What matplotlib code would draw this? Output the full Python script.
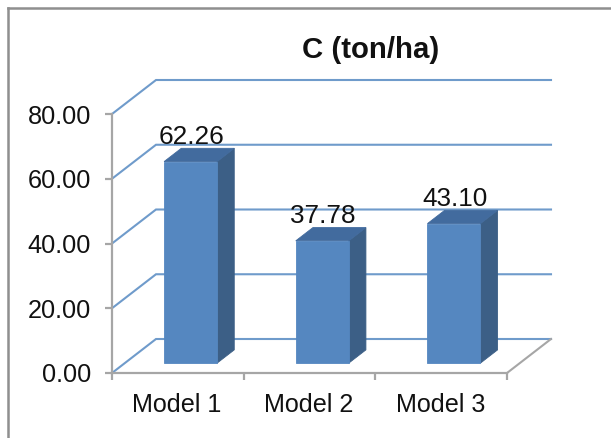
import matplotlib
matplotlib.use("Agg")
import matplotlib.pyplot as plt
from matplotlib.lines import Line2D

models = ["Model 1", "Model 2", "Model 3"]
carbon = [62.26, 37.78, 43.10]
y_ticks = [0, 20, 40, 60, 80]
title = "C (ton/ha)"

W, H = 611, 438
plt.rcParams["font.family"] = ["Liberation Sans", "DejaVu Sans"]
fig = plt.figure(figsize=(W / 100, H / 100), dpi=100, facecolor="white")
ax = fig.add_axes([112 / W, (H - 373) / H, 395 / W, 259 / H], facecolor="none")
ax.set_xlim(0, 3)
ax.set_ylim(0, 80)

# oblique depth of the 3-D box, in data units
DX = 44 / (395 / 3)
DY = 34 / (259 / 80)


def proj(x, y, d):
    return x + DX * d, y + DY * d


GRID = "#6f9bcb"
AXIS = "#a6a6a6"
FACE = "#5587c0"
SIDE = "#3c5f86"
TOP = "#426b9e"

# wall grid lines
for v in y_ticks:
    xs = [0, proj(0, v, 1)[0], proj(3, v, 1)[0]]
    ys = [v, proj(0, v, 1)[1], proj(3, v, 1)[1]]
    ax.plot(xs, ys, color=GRID, lw=1.5, clip_on=False, zorder=1, solid_joinstyle="miter")

# floor right edge
ax.plot([3, proj(3, 0, 1)[0]], [0, proj(3, 0, 1)[1]], color=AXIS, lw=1.5, clip_on=False, zorder=1)

# bars
d0, d1 = 0.29, 0.68
half = 53 / (395 / 3) / 2
for i, v in enumerate(carbon):
    c = i + 0.5
    l, r = c - half, c + half
    front = [proj(l, 0, d0), proj(r, 0, d0), proj(r, v, d0), proj(l, v, d0)]
    side = [proj(r, 0, d0), proj(r, 0, d1), proj(r, v, d1), proj(r, v, d0)]
    top = [proj(l, v, d0), proj(r, v, d0), proj(r, v, d1), proj(l, v, d1)]
    for pts, col in ((side, SIDE), (top, TOP), (front, FACE)):
        ax.fill(*zip(*pts), color=col, lw=0.6, clip_on=False, zorder=3)
    tx, ty = proj(c, v, d0)
    ax.annotate(f"{v:.2f}", (tx, ty), xytext=(0.5, 9), textcoords="offset points",
                ha="center", va="bottom", fontsize=18.8, color="#111111", zorder=5,
                annotation_clip=False)

# axes
for s in ("top", "right"):
    ax.spines[s].set_visible(False)
for s in ("left", "bottom"):
    ax.spines[s].set_color(AXIS)
    ax.spines[s].set_linewidth(1.6)
ax.set_yticks(y_ticks)
ax.set_yticklabels([f"{v:.2f}" for v in y_ticks], fontsize=18.2, color="#111111")
ax.set_xticks([0, 1, 2, 3])
ax.set_xticklabels([])
ax.tick_params(axis="y", length=5, width=1.6, color=AXIS, pad=10)
ax.tick_params(axis="x", length=5, width=1.6, color=AXIS)
for i, m in enumerate(models):
    ax.annotate(m, (i + 0.5, 0), xytext=(-0.5, -23), textcoords="offset points",
                ha="center", va="center", fontsize=18.1, color="#111111",
                annotation_clip=False)

fig.text(371 / W, 1 - 50 / H, title, ha="center", va="center",
         fontsize=21.2, fontweight="bold", color="#111111")

# chart-area border (top and left edges only reach the picture)
BORDER = "#8f8f8f"
fig.add_artist(Line2D([8 / W, 8 / W], [0, 1 - 8 / H], color=BORDER, lw=1.8))
fig.add_artist(Line2D([8 / W, 1], [1 - 8 / H, 1 - 8 / H], color=BORDER, lw=1.8))

fig.savefig("out.png", dpi=100)
